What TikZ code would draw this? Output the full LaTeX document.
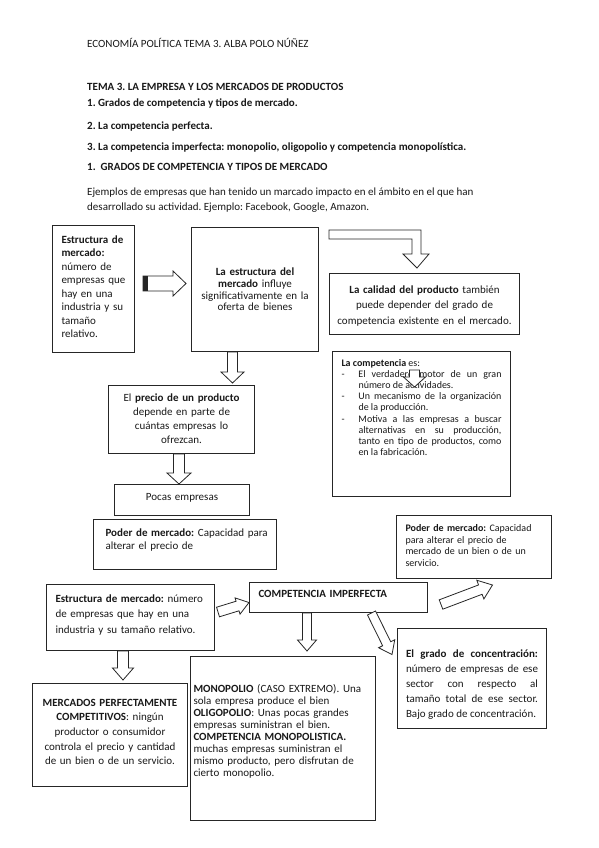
\documentclass[tikz,border=0pt]{standalone}
\usepackage{fontspec}
\setmainfont{Carlito}
\usetikzlibrary{calc}
\hyphenpenalty=10000
\exhyphenpenalty=10000
\frenchspacing

\newcommand{\fsz}[2]{\fontsize{#1}{#2}\selectfont}
% flecha de bloque: cola, punta, medio ancho cuerpo, medio ancho punta, largo punta
\newcommand{\blockarr}[5]{%
  \coordinate (#1h) at ($(#2)!#5!(#1)$);
  \draw[barrow] ($(#1)!#3!90:(#2)$) -- ($(#1h)!#3!90:(#2)$) -- ($(#1h)!#4!90:(#2)$) -- (#2)
    -- ($(#1h)!#4!-90:(#2)$) -- ($(#1h)!#3!-90:(#2)$) -- ($(#1)!#3!-90:(#2)$) -- cycle;
}
\newcommand{\guion}{\hangindent=17pt\hangafter=1\noindent\makebox[17pt][l]{-}}

\tikzset{
  box/.style={draw=black!85, line width=1pt, anchor=north west, inner ysep=0pt, text=black!90},
  head/.style={anchor=base west, inner sep=0pt, font=\fsz{11}{14}, text=black!90},
  barrow/.style={draw=black!85, line width=0.8pt, fill=white, line join=miter},
}

\begin{document}
\begin{tikzpicture}[x=1pt,y=-1pt]
\useasboundingbox[fill=white] (0,0) rectangle (599,848);

% cabecera
\node[head] (h1) at (87,48) {ECONOMÍA POLÍTICA TEMA 3. ALBA POLO NÚÑEZ};
\node[head] (h2) at (87,91) {\textbf{TEMA 3. LA EMPRESA Y LOS MERCADOS DE PRODUCTOS}};
\node[head] (h3) at (87,107) {\textbf{1. Grados de competencia y tipos de mercado.}};
\node[head] (h4) at (87,129) {\textbf{2. La competencia perfecta.}};
\node[head] (h5) at (87,150.5) {\textbf{3. La competencia imperfecta: monopolio, oligopolio y competencia monopolística.}};
\node[head] (h6) at (87,170.5) {\textbf{1.\ \ GRADOS DE COMPETENCIA Y TIPOS DE MERCADO}};
\node[head] (h7) at (87,195.5) {Ejemplos de empresas que han tenido un marcado impacto en el ámbito en el que han};
\node[head] (h8) at (87,210) {desarrollado su actividad. Ejemplo: Facebook, Google, Amazon.};

% cajas de arriba
\node[box, font=\fsz{11}{13.5}, inner xsep=9pt, text width=64pt, text height=17.5pt, text depth=109.5pt, align=left] (estr1) at (52,225)
  {\textbf{Estructura de}\\ \textbf{mercado:}\\ número de\\ empresas que\\ hay en una\\ industria y su\\ tamaño\\ relativo.};
\node[box, font=\fsz{11}{11.7}, inner xsep=4pt, text width=119pt, text height=48.2pt, text depth=75.8pt, align=center] (estr) at (191,227)
  {\textbf{La estructura del}\\ \textbf{mercado} influye\\ significativamente en la\\ oferta de bienes};
\node[box, font=\fsz{11}{15.5}, inner xsep=4pt, text width=182pt, text height=19.5pt, text depth=41.5pt, align=center] (calidad) at (329,273)
  {\textbf{La calidad del producto} también\\ puede depender del grado de\\ competencia existente en el mercado.};
\node[box, font=\fsz{11}{14}, inner xsep=4pt, text width=138pt, text height=15.5pt, text depth=52.5pt, align=center] (precio) at (108,385)
  {El \textbf{precio de un producto}\\ depende en parte de\\ cuántas empresas lo\\ ofrezcan.};
\node[box, font=\fsz{11}{14}, inner xsep=4pt, text width=127pt, text height=15.5pt, text depth=15.5pt, align=center] (pocas) at (114,484)
  {Pocas empresas};
\node[box, font=\fsz{11}{13}, inner xsep=12pt, text width=159pt, text height=16.5pt, text depth=33.5pt, align=left] (poderl) at (93,519)
  {\mbox{\textbf{Poder de mercado:} Capacidad para}\\ alterar el precio de};
\node[box, font=\fsz{10}{11.1}, inner xsep=9pt, text width=160pt, text height=15pt, text depth=130pt, align=justify] (compet) at (332,351)
  {\textbf{La competencia} es:\par
   \guion El verdadero motor de un gran\linebreak número de actividades.\par
   \guion Un mecanismo de la organización\linebreak de la producción.\par
   \guion Motiva a las empresas a buscar\linebreak alternativas en su producción,\linebreak tanto en tipo de productos, como\linebreak en la fabricación.\par};

% cajas de abajo
\node[box, font=\fsz{10}{11.7}, inner xsep=9pt, text width=137pt, text height=16pt, text depth=47pt, align=left] (poderr) at (396,515)
  {\textbf{Poder de mercado:} Capacidad\\ para alterar el precio de\\ mercado de un bien o de un\\ servicio.};
\node[box, font=\fsz{11}{15.5}, inner xsep=9pt, text width=150pt, text height=17.5pt, text depth=48.5pt, align=left] (estr2) at (46,584)
  {\textbf{Estructura de mercado:} número\\ de empresas que hay en una\\ industria y su tamaño relativo.};
\node[box, font=\fsz{11}{14}, inner xsep=9pt, text width=160pt, text height=14.5pt, text depth=15.5pt, align=left] (compimp) at (249,582)
  {\textbf{COMPETENCIA IMPERFECTA}};
\node[box, font=\fsz{11}{15}, inner xsep=8.5pt, text width=132pt, text height=28.5pt, text depth=71.5pt, align=justify] (grado) at (397,628)
  {\textbf{El grado de concentración:}\linebreak número de empresas de ese\linebreak sector con respecto al\linebreak tamaño total de ese sector.\linebreak Bajo grado de concentración.};
\node[box, font=\fsz{11}{14.7}, inner xsep=4pt, text width=147pt, text height=22.5pt, text depth=80.5pt, align=center] (merc) at (32,683)
  {\textbf{MERCADOS PERFECTAMENTE}\\ \textbf{COMPETITIVOS}: ningún\\ productor o consumidor\\ controla el precio y cantidad\\ de un bien o de un servicio.};
\node[box, font=\fsz{11}{12}, inner xsep=3pt, text width=179pt, text height=35.5pt, text depth=128.5pt, align=left] (mono) at (190,656)
  {\textbf{MONOPOLIO} (CASO EXTREMO). Una\\ sola empresa produce el bien\\ \textbf{OLIGOPOLIO}: Unas pocas grandes\\ empresas suministran el bien.\\ \textbf{COMPETENCIA MONOPOLISTICA.}\\ muchas empresas suministran el\\ mismo producto, pero disfrutan de\\ cierto monopolio.};

% flechas
\coordinate (a1s) at ([xshift=8pt,yshift=5.5pt]estr1.east);
\coordinate (a1e) at ([xshift=-5pt,yshift=6pt]estr.west);
\blockarr{a1s}{a1e}{7.5pt}{12.5pt}{13pt}
\fill[black!85] ([yshift=7.5pt]a1s) rectangle ([xshift=5pt,yshift=-7.5pt]a1s);

\coordinate (bt) at ([xshift=10pt,yshift=-3pt]estr.north east);
\draw[barrow] (bt) -- ++(92,0) -- ++(0,24) -- ++(8,0) -- ++(-12,14) -- ++(-14,-14) -- ++(9,0) -- ++(0,-15) -- ++(-83,0) -- cycle;

\coordinate (a3s) at ([xshift=-22.5pt]estr.south);
\coordinate (a3e) at ([xshift=51pt,yshift=2pt]precio.north);
\blockarr{a3s}{a3e}{5pt}{11.5pt}{11pt}

\coordinate (a4s) at ([xshift=-2.5pt]precio.south);
\coordinate (a4e) at ([xshift=-3pt]pocas.north);
\blockarr{a4s}{a4e}{5.5pt}{12pt}{11pt}

\coordinate (a5s) at ([xshift=-10pt,yshift=-35pt]calidad.south);
\coordinate (a5e) at ([xshift=-10pt,yshift=-52pt]calidad.south);
\blockarr{a5s}{a5e}{5pt}{11pt}{10pt}

\coordinate (a6s) at ([xshift=3pt,yshift=5.5pt]estr2.east);
\coordinate (a6e) at ([yshift=-5pt]compimp.west);
\blockarr{a6s}{a6e}{5pt}{8.5pt}{12pt}

\coordinate (a7s) at ([xshift=-31.5pt]compimp.south);
\coordinate (a7e) at ([xshift=24pt,yshift=5pt]mono.north);
\blockarr{a7s}{a7e}{4.5pt}{9.5pt}{11pt}

\coordinate (a8s) at ([xshift=33pt]compimp.south);
\coordinate (a8e) at ([xshift=-5pt,yshift=24pt]grado.west);
\blockarr{a8s}{a8e}{4.5pt}{9pt}{12pt}

\coordinate (a9s) at ([xshift=13pt,yshift=-7pt]compimp.east);
\coordinate (a9e) at ([xshift=18.5pt,yshift=-6pt]poderr.south);
\blockarr{a9s}{a9e}{5pt}{10pt}{13pt}

\coordinate (a10s) at ([xshift=-7.5pt]estr2.south);
\coordinate (a10e) at ([xshift=13pt,yshift=3pt]merc.north);
\blockarr{a10s}{a10e}{5.5pt}{10.5pt}{12pt}
\end{tikzpicture}
\end{document}
